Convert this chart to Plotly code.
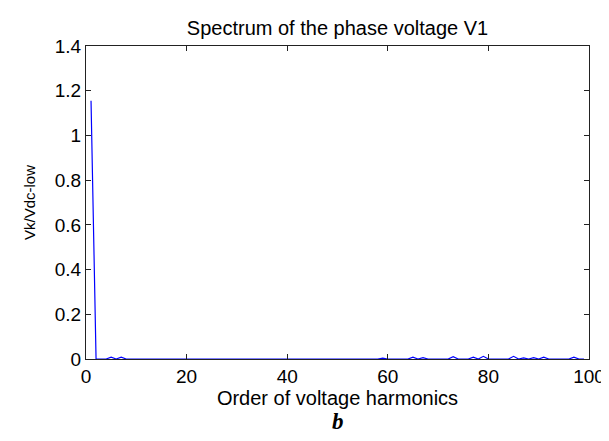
import plotly.graph_objects as go

# harmonic orders and normalised amplitudes Vk/Vdc-low
orders = list(range(1, 100))
amps = [0.0] * len(orders)
amps[0] = 1.155
bumps = {5: 0.008, 7: 0.008, 59: 0.004, 65: 0.008, 67: 0.006, 73: 0.010,
         77: 0.008, 79: 0.012, 85: 0.012, 87: 0.005, 89: 0.006, 91: 0.008,
         97: 0.008}
for k, v in bumps.items():
    amps[orders.index(k)] = v

x_ticks = [0, 20, 40, 60, 80, 100]
y_ticks = [0, 0.2, 0.4, 0.6, 0.8, 1.0, 1.2, 1.4]
y_tick_labels = ['0', '0.2', '0.4', '0.6', '0.8', '1', '1.2', '1.4']

font = 'Liberation Sans, Arial, sans-serif'

fig = go.Figure()
fig.add_trace(go.Scatter(
    x=orders, y=amps, mode='lines',
    line=dict(color='#0000ff', width=1.2),
    showlegend=False
))

axis_common = dict(
    showline=True, linecolor='#222222', linewidth=1, mirror='allticks',
    ticks='inside', ticklen=5, tickwidth=1, tickcolor='#222222',
    showgrid=False, zeroline=False,
    tickfont=dict(family=font, size=19, color='#000000'),
)

fig.update_layout(
    width=609, height=441,
    paper_bgcolor='white', plot_bgcolor='white',
    margin=dict(l=78, r=19, t=38, b=90),
    title=dict(text='Spectrum of the phase voltage V1', x=0.5, xref='paper',
               y=0.955, yanchor='middle',
               font=dict(family=font, size=20, color='#000000')),
    xaxis=dict(range=[0, 100], tickvals=x_ticks,
               title=dict(text='Order of voltage harmonics', standoff=1,
                          font=dict(family=font, size=20, color='#000000')),
               **axis_common),
    yaxis=dict(range=[0, 1.4], tickvals=y_ticks, ticktext=y_tick_labels,
               title=dict(text='Vk/Vdc-low', standoff=15,
                          font=dict(family=font, size=15, color='#000000')),
               **axis_common),
    annotations=[dict(text='<b><i>b</i></b>', xref='paper', yref='paper',
                      x=0.5, y=-0.245, showarrow=False,
                      font=dict(family='Liberation Serif, Times New Roman, serif',
                                size=23, color='#000000'))],
)

fig.write_html("out.html")
